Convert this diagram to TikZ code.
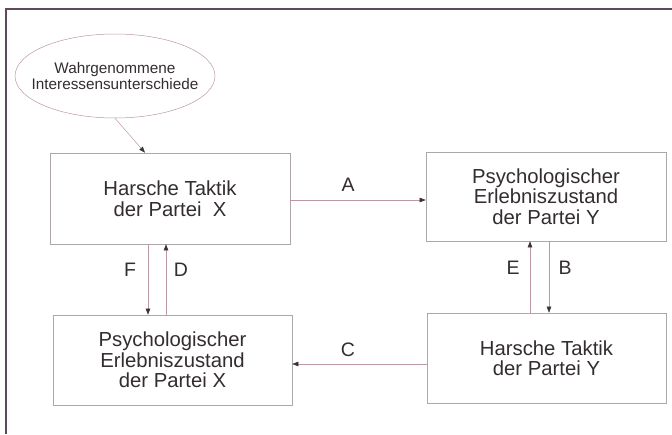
\documentclass[tikz,border=0pt]{standalone}
\usepackage{fontspec}
\setmainfont{Liberation Sans}
\usetikzlibrary{shapes.geometric,arrows.meta}
\definecolor{txt}{HTML}{332D31}
\definecolor{boxc}{HTML}{ADA6AC}
\definecolor{conn}{HTML}{BC98A2}
\definecolor{tipc}{HTML}{3A3438}
\definecolor{frm}{HTML}{5E4A5C}
\tikzset{
  box/.style={draw=boxc, line width=0.6pt, rectangle, minimum width=240pt, minimum height=90pt, inner sep=0pt,
    align=center, text=txt, font=\fontsize{20.3}{20.5}\selectfont},
  conn/.style={draw=conn, line width=0.5pt, -{Triangle[length=6pt,width=4.5pt,color=tipc]}},
  lab/.style={text=txt, font=\fontsize{19.5}{20}\selectfont, inner sep=0pt},
}
\begin{document}
\begin{tikzpicture}[x=1pt,y=-1pt]
\useasboundingbox (0,0) rectangle (672,434);
\fill[white] (0,0) rectangle (672,434);
\draw[frm, line width=2pt] (6,434) -- (6,9) -- (672,9);
\node[ellipse, draw=conn, line width=0.5pt, minimum width=200pt, minimum height=84pt, inner sep=0pt] (ell) at (115,76) {};
\node[align=center, text=txt, inner sep=0pt, font=\fontsize{15.3}{16.5}\selectfont] (elltext) at (115,76) {Wahrgenommene\\Interessensunterschiede};
\node[box, minimum height=91pt] (b1) at (170,198.5) {Harsche Taktik\\der Partei\ \ X};
\node[box, minimum height=89pt] (b2) at (546,196.5) {Psychologischer\\Erlebniszustand\\der Partei Y};
\node[box, minimum width=239pt] (b3) at (172.5,360) {Psychologischer\\Erlebniszustand\\der Partei X};
\node[box, minimum width=239pt] (b4) at (546.5,358) {Harsche Taktik\\der Partei Y};
\draw[conn] (ell.south) -- ([xshift=-25pt]b1.north);
\draw[conn] ([yshift=-1.5pt]b1.east) -- ([yshift=-1.5pt]b1.east -| b2.west);
\draw[conn] ([xshift=-22pt]b1.south) -- ([xshift=-22pt]b1.south |- b3.north);
\draw[conn] ([xshift=-6.5pt]b3.north) -- ([xshift=-6.5pt]b3.north |- b1.south);
\draw[conn] ([xshift=-16.5pt]b4.north) -- ([xshift=-16.5pt]b4.north |- b2.south);
\draw[conn] ([xshift=3pt]b2.south) -- ([xshift=3pt]b2.south |- b4.north);
\draw[conn] ([yshift=-6pt]b4.west) -- ([yshift=-6pt]b4.west -| b3.east);
\node[lab] (la) at (348,185) {A};
\node[lab] (lf) at (130,270) {F};
\node[lab] (ld) at (181,270) {D};
\node[lab] (le) at (513,268) {E};
\node[lab] (lb) at (565,268) {B};
\node[lab] (lc) at (348,350) {C};
\end{tikzpicture}
\end{document}
